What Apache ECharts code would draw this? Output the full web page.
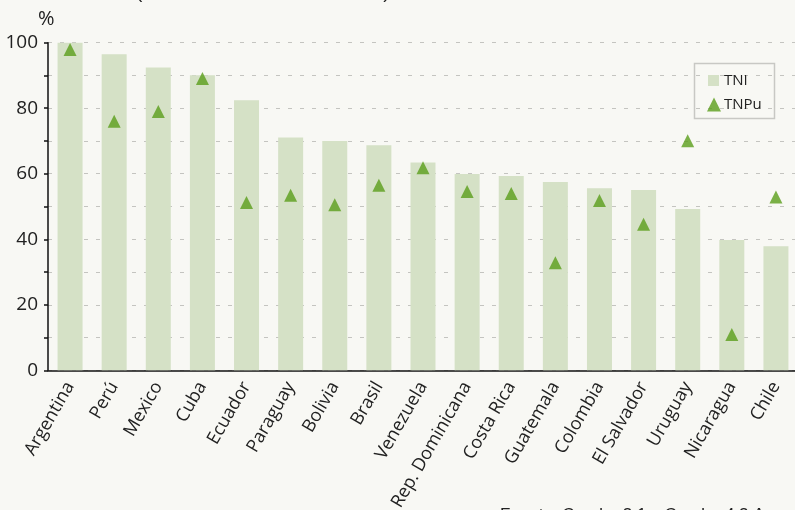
<!DOCTYPE html>
<html>
<head>
<meta charset="utf-8">
<script src="https://cdn.jsdelivr.net/npm/echarts@6/dist/echarts.min.js"></script>
<style>
html,body{margin:0;padding:0;background:#f8f8f4;}
#c{width:795px;height:510px;}
</style>
</head>
<body>
<div id="c"></div>
<script>
const categories = ['Argentina','Perú','Mexico','Cuba','Ecuador','Paraguay','Bolivia','Brasil','Venezuela','Rep. Dominicana','Costa Rica','Guatemala','Colombia','El Salvador','Uruguay','Nicaragua','Chile'];
const tni  = [100, 96.5, 92.4, 90.1, 82.4, 71.1, 70.0, 68.7, 63.4, 59.9, 59.3, 57.5, 55.6, 55.0, 49.2, 39.8, 37.9];
const tnpu = [97.9, 76.0, 79.0, 89.1, 51.2, 53.4, 50.5, 56.5, 61.8, 54.6, 54.0, 32.8, 51.8, 44.6, 70.1, 10.9, 52.9];
const yTicks = [0, 20, 40, 60, 80, 100];

const FONT = '"Open Sans", sans-serif';
const chart = echarts.init(document.getElementById('c'), null, {renderer: 'canvas'});
chart.setOption({
  backgroundColor: '#f8f8f4',
  animation: false,
  grid: {left: 48, top: 42.7, width: 750, height: 327.6, containLabel: false, outerBoundsMode: 'none'},
  xAxis: {
    type: 'category',
    data: categories,
    axisLine: {show: true, lineStyle: {color: '#111', width: 1.5}},
    axisTick: {show: false},
    axisLabel: {rotate: 60, interval: 0, margin: 13, fontFamily: FONT, fontSize: 18, color: '#222'}
  },
  yAxis: {
    type: 'value', min: 0, max: 100, interval: 10,
    axisLine: {show: true, lineStyle: {color: '#111', width: 1.5}},
    axisTick: {show: true, length: 4, lineStyle: {color: '#111', width: 1.5}},
    splitLine: {show: true, lineStyle: {color: '#c4c4c0', type: [4, 8], width: 1}},
    axisLabel: {
      margin: 10, fontFamily: FONT, fontSize: 19, color: '#222',
      formatter: v => (yTicks.indexOf(v) >= 0 ? String(v) : '')
    }
  },
  legend: [
    {data: [{name: 'TNI', icon: 'rect'}], orient: 'vertical', left: 703, top: 68, itemWidth: 11, itemHeight: 11, itemGap: 8, itemStyle: {color: '#d5e1c6'},
     textStyle: {fontFamily: FONT, fontSize: 15, color: '#222', padding: [0, 0, 0, 0]}},
    {data: [{name: 'TNPu', icon: 'triangle'}], orient: 'vertical', left: 702, top: 92, itemWidth: 14, itemHeight: 14,
     textStyle: {fontFamily: FONT, fontSize: 15, color: '#222', padding: [0, 0, 0, -2]}}
  ],
  graphic: [
    {type: 'rect', shape: {x: 694.5, y: 63.5, width: 80, height: 55}, style: {fill: 'none', stroke: '#c8c8c4', lineWidth: 1.5}, z: 0},
    {type: 'text', left: 38, top: 9, style: {text: '%', font: '20px "Open Sans", sans-serif', fill: '#222'}},
    {type: 'text', left: 136, top: -17, style: {text: '(en orden decreciente de TNI)', font: '19px "Liberation Sans", Arial, sans-serif', fill: '#222'}},
    {type: 'text', left: 500, top: 507, style: {text: 'Fuente: Cuadro 3.1 y Cuadro 4.2 Anexo 1', font: '17px "Liberation Sans", Arial, sans-serif', fill: '#222'}}
  ],
  series: [
    {name: 'TNI', type: 'bar', data: tni, barWidth: 25, itemStyle: {color: '#d5e1c6'}},
    {name: 'TNPu', type: 'scatter', data: tnpu, symbol: 'triangle', symbolSize: 13, itemStyle: {color: '#5a9e1a'}, z: 3}
  ]
});
</script>
</body>
</html>
